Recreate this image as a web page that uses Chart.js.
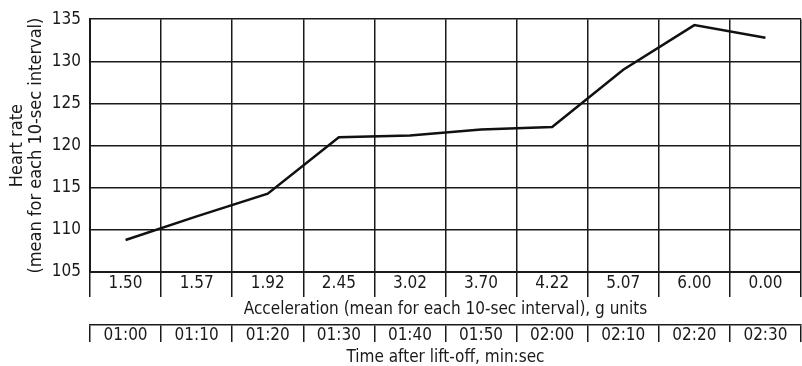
<!DOCTYPE html>
<html>
<head>
<meta charset="utf-8">
<script src="https://cdn.jsdelivr.net/npm/chart.js@4.4.1/dist/chart.umd.min.js"></script>
<style>
  html, body { margin: 0; padding: 0; background: #ffffff; }
  #wrap { width: 802px; height: 366px; position: relative; }
</style>
</head>
<body>
<div id="wrap"><canvas id="c" width="802" height="366"></canvas></div>
<script>
// ---- data ----
const accelLabels = ['1.50', '1.57', '1.92', '2.45', '3.02', '3.70', '4.22', '5.07', '6.00', '0.00'];
const timeLabels  = ['01:00', '01:10', '01:20', '01:30', '01:40', '01:50', '02:00', '02:10', '02:20', '02:30'];
const heartRate   = [108.8, 111.6, 114.3, 121.0, 121.2, 121.9, 122.2, 129.0, 134.3, 132.8];
const yMin = 105, yMax = 135, yStep = 5;

const FONT = "'DejaVu Sans Condensed', 'Liberation Sans Narrow', sans-serif";
const INK = '#1a1a1a';

new Chart(document.getElementById('c'), {
  type: 'line',
  data: {
    labels: accelLabels,
    datasets: [{
      data: heartRate,
      xAxisID: 'x',
      yAxisID: 'y',
      borderColor: '#111',
      borderWidth: 2.5,
      pointRadius: 0,
      tension: 0,
      fill: false
    }]
  },
  options: {
    responsive: false,
    animation: false,
    devicePixelRatio: 1,
    layout: { padding: { left: 0, top: 17, right: 1, bottom: 0 } },
    plugins: { legend: { display: false }, tooltip: { enabled: false } },
    scales: {
      y: {
        position: 'left',
        min: yMin, max: yMax,
        ticks: { stepSize: yStep, color: INK, padding: 9, font: { family: FONT, size: 17 } },
        grid: { color: INK, lineWidth: 1.5, drawTicks: false },
        border: { color: INK, width: 2 },
        title: {
          display: true,
          text: ['Heart rate', '(mean for each 10-sec interval)'],
          color: INK,
          font: { family: FONT, size: 18, lineHeight: 1.1 },
          padding: { top: 7, bottom: 0 }
        },
        afterFit: (s) => { s.width = 90; }
      },
      x: {
        type: 'category',
        position: 'bottom',
        weight: 0,
        offset: true,
        grid: { offset: true, color: INK, lineWidth: 1.5, tickLength: 25, tickColor: INK, tickWidth: 1.5 },
        border: { color: INK, width: 2 },
        ticks: { autoSkip: false, maxRotation: 0, color: INK, padding: -24, font: { family: FONT, size: 17 } },
        title: {
          display: true,
          text: 'Acceleration (mean for each 10-sec interval), g units',
          color: INK,
          font: { family: FONT, size: 17, lineHeight: 1.2 },
          padding: { top: 0, bottom: 5 }
        },
        afterFit: (s) => { s.height = 53; }
      },
      x2: {
        type: 'category',
        position: 'bottom',
        weight: 1,
        labels: timeLabels,
        offset: true,
        grid: { offset: true, drawOnChartArea: false, color: INK, lineWidth: 1.5, tickLength: 17, tickColor: INK, tickWidth: 1.5 },
        border: { color: INK, width: 1.5 },
        ticks: { autoSkip: false, maxRotation: 0, color: INK, padding: -17, font: { family: FONT, size: 17 } },
        title: {
          display: true,
          text: 'Time after lift-off, min:sec',
          color: INK,
          font: { family: FONT, size: 17, lineHeight: 1.0 },
          padding: { top: 0, bottom: 0 }
        },
        afterFit: (s) => { s.height = 41; }
      }
    }
  }
});
</script>
</body>
</html>
